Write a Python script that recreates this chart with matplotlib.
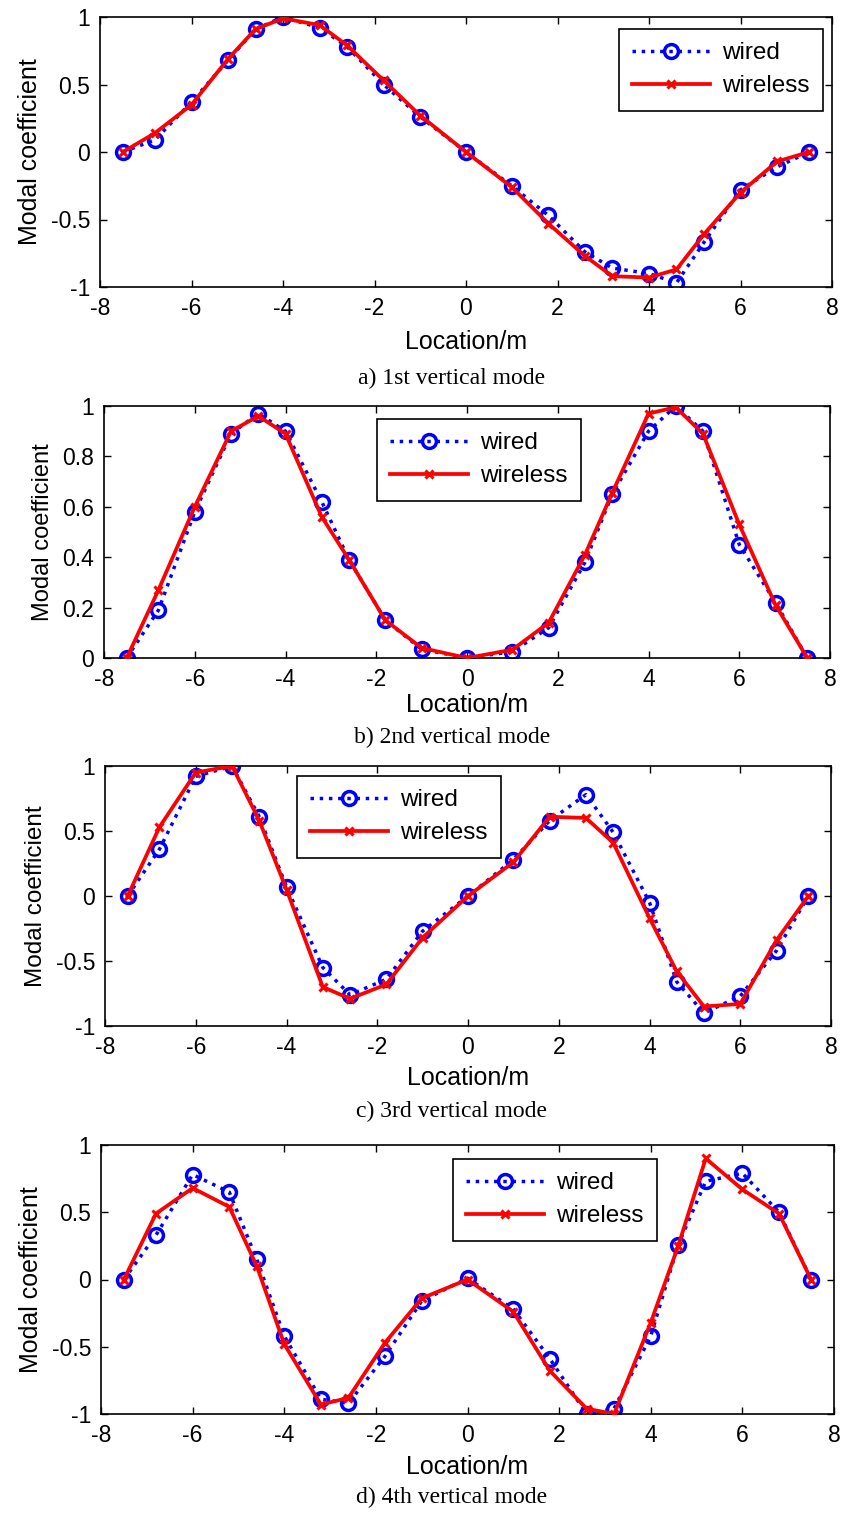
import matplotlib
matplotlib.use("Agg")
from matplotlib import pyplot as plt
from matplotlib.ticker import FuncFormatter
import numpy as np

plt.rcParams['font.family'] = ['Liberation Sans', 'DejaVu Sans']
plt.rcParams['axes.unicode_minus'] = False

# measurement locations along the span (m)
location = [-7.5, -6.8, -6, -5.2, -4.6, -4, -3.2, -2.6, -1.8, -1, 0,
            1, 1.8, 2.6, 3.2, 4, 4.6, 5.2, 6, 6.8, 7.5]

# mode 1
wired_1 = [0, 0.09, 0.37, 0.68, 0.91, 1.0, 0.92, 0.78, 0.50, 0.26, 0,
           -0.25, -0.47, -0.74, -0.86, -0.90, -0.97, -0.67, -0.28, -0.11, 0]
wireless_1 = [0, 0.14, 0.35, 0.69, 0.91, 0.99, 0.94, 0.79, 0.53, 0.27, 0,
              -0.26, -0.53, -0.77, -0.92, -0.93, -0.87, -0.61, -0.30, -0.07, 0]

# mode 2
wired_2 = [0, 0.19, 0.58, 0.89, 0.97, 0.90, 0.62, 0.39, 0.15, 0.035, 0,
           0.025, 0.12, 0.38, 0.65, 0.90, 1.0, 0.90, 0.45, 0.22, 0]
wireless_2 = [0, 0.27, 0.60, 0.90, 0.96, 0.89, 0.56, 0.39, 0.15, 0.04, 0,
              0.033, 0.14, 0.41, 0.655, 0.97, 0.995, 0.89, 0.53, 0.21, 0]

# mode 3
wired_3 = [0, 0.36, 0.92, 1.0, 0.61, 0.07, -0.55, -0.76, -0.64, -0.27, 0,
           0.28, 0.58, 0.78, 0.49, -0.05, -0.66, -0.90, -0.77, -0.42, 0]
wireless_3 = [0, 0.53, 0.95, 1.0, 0.58, 0.05, -0.70, -0.79, -0.68, -0.32, 0,
              0.26, 0.61, 0.60, 0.41, -0.17, -0.58, -0.85, -0.83, -0.34, 0]

# mode 4
wired_4 = [0, 0.33, 0.78, 0.65, 0.15, -0.42, -0.89, -0.92, -0.57, -0.16, 0.01,
           -0.22, -0.59, -1.0, -0.96, -0.42, 0.26, 0.73, 0.79, 0.50, 0]
wireless_4 = [0, 0.49, 0.68, 0.54, 0.10, -0.48, -0.93, -0.88, -0.47, -0.14, 0,
              -0.24, -0.68, -0.96, -1.0, -0.32, 0.25, 0.90, 0.67, 0.49, 0]

captions = ["a) 1st vertical mode", "b) 2nd vertical mode",
            "c) 3rd vertical mode", "d) 4th vertical mode"]

W, H = 844, 1516
fig = plt.figure(figsize=(W / 100, H / 100), dpi=100)

# pixel boxes: left, right, top, bottom
boxes = [(100, 832, 17, 287), (104, 830, 406, 658),
         (105, 831, 766, 1026), (101, 834, 1145, 1414)]
legend_pos = [(0.709, 0.956), (0.376, 0.948), (0.264, 0.962), (0.480, 0.948)]
ylab_size = [18, 17, 17.5, 18]
xlabel_y = [342, 705, 1078, 1467]
caption_y = [378, 737, 1111, 1497]

series = [(wired_1, wireless_1), (wired_2, wireless_2),
          (wired_3, wireless_3), (wired_4, wireless_4)]

fmt = FuncFormatter(lambda v, p: '%g' % v)

for i, (wd, wl) in enumerate(series):
    l, r, t, b = boxes[i]
    ax = fig.add_axes([l / W, 1 - b / H, (r - l) / W, (b - t) / H])
    ax.plot(location, wd, color='blue', linestyle=':', linewidth=2.5,
            marker='o', markersize=10, markerfacecolor='none',
            markeredgewidth=2.5, label='wired', zorder=2)
    ax.plot(location, wl, color='red', linestyle='-', linewidth=2.7,
            marker='x', markersize=6, markeredgewidth=2.2,
            label='wireless', zorder=3)
    ax.set_xlim(-8, 8)
    ax.set_xticks(np.arange(-8, 9, 2))
    if i == 1:
        ax.set_ylim(0, 1)
        ax.set_yticks([0, 0.2, 0.4, 0.6, 0.8, 1])
    else:
        ax.set_ylim(-1, 1)
        ax.set_yticks([-1, -0.5, 0, 0.5, 1])
    ax.xaxis.set_major_formatter(fmt)
    ax.yaxis.set_major_formatter(fmt)
    ax.tick_params(direction='in', top=True, right=True, length=5,
                   width=1, labelsize=16.5, pad=7)
    for s in ax.spines.values():
        s.set_linewidth(1.2)
    ax.set_ylabel('Modal coefficient', fontsize=ylab_size[i], labelpad=6)
    fig.text(0.5 * (l + r) / W, 1 - xlabel_y[i] / H, 'Location/m',
             fontsize=18, ha='center', va='center')
    fig.text(452 / W, 1 - caption_y[i] / H, captions[i],
             fontsize=17, ha='center', va='center',
             family=['Liberation Serif', 'DejaVu Serif'])
    leg = ax.legend(loc='upper left', bbox_to_anchor=legend_pos[i],
                    fontsize=17.5, handlelength=3.2, handletextpad=0.5,
                    labelspacing=0.45, borderpad=0.55, fancybox=False,
                    framealpha=1, edgecolor='black', borderaxespad=0)
    leg.get_frame().set_linewidth(1.2)

fig.savefig('out.png', dpi=100)
